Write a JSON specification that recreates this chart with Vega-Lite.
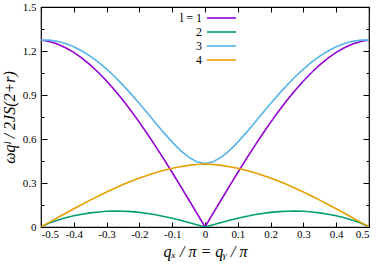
{
  "$schema": "https://vega.github.io/schema/vega-lite/v6.json",
  "width": 328,
  "height": 220,
  "autosize": {"type": "none"},
  "padding": {"left": 41, "top": 7, "right": 13, "bottom": 37},
  "config": {
    "view": {"stroke": "black", "strokeWidth": 1.2},
    "axis": {"grid": false, "domain": false, "labelFont": "Liberation Serif", "labelFontSize": 11, "labelColor": "#000", "tickColor": "#000", "tickWidth": 1, "titleFont": "Liberation Serif", "titleFontStyle": "italic", "titleFontWeight": "normal", "titleFontSize": 16, "titleColor": "#000"}
  },
  "data": {"values": [
    {"q":-0.5,"l":"1","w":1.275},{"q":-0.475,"l":"1","w":1.2651},{"q":-0.45,"l":"1","w":1.2476},{"q":-0.425,"l":"1","w":1.2225},{"q":-0.4,"l":"1","w":1.1903},{"q":-0.375,"l":"1","w":1.1511},{"q":-0.35,"l":"1","w":1.1053},{"q":-0.325,"l":"1","w":1.0533},{"q":-0.3,"l":"1","w":0.9954},{"q":-0.275,"l":"1","w":0.932},{"q":-0.25,"l":"1","w":0.8636},{"q":-0.225,"l":"1","w":0.7905},{"q":-0.2,"l":"1","w":0.7133},{"q":-0.175,"l":"1","w":0.6323},{"q":-0.15,"l":"1","w":0.5481},{"q":-0.125,"l":"1","w":0.4611},{"q":-0.1,"l":"1","w":0.3717},{"q":-0.075,"l":"1","w":0.2804},{"q":-0.05,"l":"1","w":0.1877},{"q":-0.025,"l":"1","w":0.0941},{"q":0,"l":"1","w":0},
    {"q":0.025,"l":"1","w":0.0941},{"q":0.05,"l":"1","w":0.1877},{"q":0.075,"l":"1","w":0.2804},{"q":0.1,"l":"1","w":0.3717},{"q":0.125,"l":"1","w":0.4611},{"q":0.15,"l":"1","w":0.5481},{"q":0.175,"l":"1","w":0.6323},{"q":0.2,"l":"1","w":0.7133},{"q":0.225,"l":"1","w":0.7905},{"q":0.25,"l":"1","w":0.8636},{"q":0.275,"l":"1","w":0.932},{"q":0.3,"l":"1","w":0.9954},{"q":0.325,"l":"1","w":1.0533},{"q":0.35,"l":"1","w":1.1053},{"q":0.375,"l":"1","w":1.1511},{"q":0.4,"l":"1","w":1.1903},{"q":0.425,"l":"1","w":1.2225},{"q":0.45,"l":"1","w":1.2476},{"q":0.475,"l":"1","w":1.2651},{"q":0.5,"l":"1","w":1.275},

    {"q":-0.5,"l":"2","w":0},{"q":-0.475,"l":"2","w":0.0274},{"q":-0.45,"l":"2","w":0.0465},{"q":-0.425,"l":"2","w":0.0625},{"q":-0.4,"l":"2","w":0.0761},{"q":-0.375,"l":"2","w":0.0874},{"q":-0.35,"l":"2","w":0.0963},{"q":-0.325,"l":"2","w":0.1028},{"q":-0.3,"l":"2","w":0.1069},{"q":-0.275,"l":"2","w":0.1086},{"q":-0.25,"l":"2","w":0.1079},{"q":-0.225,"l":"2","w":0.1049},{"q":-0.2,"l":"2","w":0.0997},{"q":-0.175,"l":"2","w":0.0923},{"q":-0.15,"l":"2","w":0.083},{"q":-0.125,"l":"2","w":0.072},{"q":-0.1,"l":"2","w":0.0594},{"q":-0.075,"l":"2","w":0.0457},{"q":-0.05,"l":"2","w":0.031},{"q":-0.025,"l":"2","w":0.0157},{"q":0,"l":"2","w":0},
    {"q":0.025,"l":"2","w":0.0157},{"q":0.05,"l":"2","w":0.031},{"q":0.075,"l":"2","w":0.0457},{"q":0.1,"l":"2","w":0.0594},{"q":0.125,"l":"2","w":0.072},{"q":0.15,"l":"2","w":0.083},{"q":0.175,"l":"2","w":0.0923},{"q":0.2,"l":"2","w":0.0997},{"q":0.225,"l":"2","w":0.1049},{"q":0.25,"l":"2","w":0.1079},{"q":0.275,"l":"2","w":0.1086},{"q":0.3,"l":"2","w":0.1069},{"q":0.325,"l":"2","w":0.1028},{"q":0.35,"l":"2","w":0.0963},{"q":0.375,"l":"2","w":0.0874},{"q":0.4,"l":"2","w":0.0761},{"q":0.425,"l":"2","w":0.0625},{"q":0.45,"l":"2","w":0.0465},{"q":0.475,"l":"2","w":0.0274},{"q":0.5,"l":"2","w":0},

    {"q":-0.5,"l":"3","w":1.2752},{"q":-0.475,"l":"3","w":1.274},{"q":-0.45,"l":"3","w":1.2659},{"q":-0.425,"l":"3","w":1.2508},{"q":-0.4,"l":"3","w":1.2289},{"q":-0.375,"l":"3","w":1.2003},{"q":-0.35,"l":"3","w":1.1652},{"q":-0.325,"l":"3","w":1.1239},{"q":-0.3,"l":"3","w":1.0768},{"q":-0.275,"l":"3","w":1.0244},{"q":-0.25,"l":"3","w":0.9672},{"q":-0.225,"l":"3","w":0.906},{"q":-0.2,"l":"3","w":0.8416},{"q":-0.175,"l":"3","w":0.7751},{"q":-0.15,"l":"3","w":0.7078},{"q":-0.125,"l":"3","w":0.6416},{"q":-0.1,"l":"3","w":0.5788},{"q":-0.075,"l":"3","w":0.5225},{"q":-0.05,"l":"3","w":0.4766},{"q":-0.025,"l":"3","w":0.4455},{"q":0,"l":"3","w":0.433},
    {"q":0.025,"l":"3","w":0.4455},{"q":0.05,"l":"3","w":0.4766},{"q":0.075,"l":"3","w":0.5225},{"q":0.1,"l":"3","w":0.5788},{"q":0.125,"l":"3","w":0.6416},{"q":0.15,"l":"3","w":0.7078},{"q":0.175,"l":"3","w":0.7751},{"q":0.2,"l":"3","w":0.8416},{"q":0.225,"l":"3","w":0.906},{"q":0.25,"l":"3","w":0.9672},{"q":0.275,"l":"3","w":1.0244},{"q":0.3,"l":"3","w":1.0768},{"q":0.325,"l":"3","w":1.1239},{"q":0.35,"l":"3","w":1.1652},{"q":0.375,"l":"3","w":1.2003},{"q":0.4,"l":"3","w":1.2289},{"q":0.425,"l":"3","w":1.2508},{"q":0.45,"l":"3","w":1.2659},{"q":0.475,"l":"3","w":1.274},{"q":0.5,"l":"3","w":1.2752},

    {"q":-0.5,"l":"4","w":0},{"q":-0.475,"l":"4","w":0.0314},{"q":-0.45,"l":"4","w":0.0626},{"q":-0.425,"l":"4","w":0.0936},{"q":-0.4,"l":"4","w":0.1241},{"q":-0.375,"l":"4","w":0.1539},{"q":-0.35,"l":"4","w":0.1831},{"q":-0.325,"l":"4","w":0.2113},{"q":-0.3,"l":"4","w":0.2385},{"q":-0.275,"l":"4","w":0.2644},{"q":-0.25,"l":"4","w":0.2891},{"q":-0.225,"l":"4","w":0.3122},{"q":-0.2,"l":"4","w":0.3336},{"q":-0.175,"l":"4","w":0.3533},{"q":-0.15,"l":"4","w":0.371},{"q":-0.125,"l":"4","w":0.3867},{"q":-0.1,"l":"4","w":0.4001},{"q":-0.075,"l":"4","w":0.4113},{"q":-0.05,"l":"4","w":0.4201},{"q":-0.025,"l":"4","w":0.4263},{"q":0,"l":"4","w":0.43},
    {"q":0.025,"l":"4","w":0.4263},{"q":0.05,"l":"4","w":0.4201},{"q":0.075,"l":"4","w":0.4113},{"q":0.1,"l":"4","w":0.4001},{"q":0.125,"l":"4","w":0.3867},{"q":0.15,"l":"4","w":0.371},{"q":0.175,"l":"4","w":0.3533},{"q":0.2,"l":"4","w":0.3336},{"q":0.225,"l":"4","w":0.3122},{"q":0.25,"l":"4","w":0.2891},{"q":0.275,"l":"4","w":0.2644},{"q":0.3,"l":"4","w":0.2385},{"q":0.325,"l":"4","w":0.2113},{"q":0.35,"l":"4","w":0.1831},{"q":0.375,"l":"4","w":0.1539},{"q":0.4,"l":"4","w":0.1241},{"q":0.425,"l":"4","w":0.0936},{"q":0.45,"l":"4","w":0.0626},{"q":0.475,"l":"4","w":0.0314},{"q":0.5,"l":"4","w":0}
  ]},
  "layer": [
    {
      "mark": {"type": "line", "strokeWidth": 1.6, "clip": true},
      "encoding": {
        "x": {"field": "q", "type": "quantitative",
          "scale": {"domain": [-0.5, 0.5], "nice": false, "zero": false},
          "axis": {"orient": "bottom", "values": [-0.5,-0.4,-0.3,-0.2,-0.1,0,0.1,0.2,0.3,0.4,0.5], "tickSize": -5, "labelPadding": 6,
            "labelExpr": "datum.value == 0 ? '0' : replace(format(datum.value, '.1f'), '\u2212', '-')",
            "title": "qₓ / π = qᵧ / π", "titlePadding": 4}},
        "y": {"field": "w", "type": "quantitative",
          "scale": {"domain": [0, 1.5], "nice": false},
          "axis": {"orient": "left", "values": [0,0.15,0.3,0.45,0.6,0.75,0.9,1.05,1.2,1.35,1.5],
            "tickSize": {"condition": {"test": "round(datum.value*100) % 30 == 0", "value": -6}, "value": -3},
            "labelPadding": 11,
            "labelExpr": "round(datum.value*100) % 30 == 0 ? (datum.value == 0 ? '0' : format(datum.value, '.1f')) : ''",
            "title": "ωqˡ / 2JS(2+r)", "titlePadding": 5}},
        "color": {"field": "l", "type": "nominal",
          "scale": {"domain": ["1","2","3","4"], "range": ["#9400d3","#009e73","#56b4e9","#e69f00"]},
          "legend": {"orient": "none", "legendX": 174.5, "legendY": 5, "title": null, "symbolType": "M-2.9,0L2.9,0", "symbolSize": 100, "symbolStrokeWidth": 1.6,
            "labelFont": "Liberation Serif", "labelFontSize": 12, "labelColor": "#000", "labelAlign": "right", "labelOffset": -25.5, "rowPadding": 2,
            "labelExpr": "datum.label == '1' ? 'l = 1' : datum.label"}}
      }
    },
    {
      "mark": {"type": "line", "opacity": 0},
      "encoding": {
        "x": {"field": "q", "type": "quantitative",
          "axis": {"orient": "top", "values": [-0.5,-0.4,-0.3,-0.2,-0.1,0,0.1,0.2,0.3,0.4,0.5], "tickSize": -5, "labels": false, "title": null}},
        "y": {"field": "w", "type": "quantitative",
          "axis": {"orient": "right", "values": [0,0.15,0.3,0.45,0.6,0.75,0.9,1.05,1.2,1.35,1.5],
            "tickSize": {"condition": {"test": "round(datum.value*100) % 30 == 0", "value": -6}, "value": -3},
            "labels": false, "title": null}},
        "detail": {"field": "l"}
      }
    }
  ],
  "resolve": {"axis": {"x": "independent", "y": "independent"}}
}
